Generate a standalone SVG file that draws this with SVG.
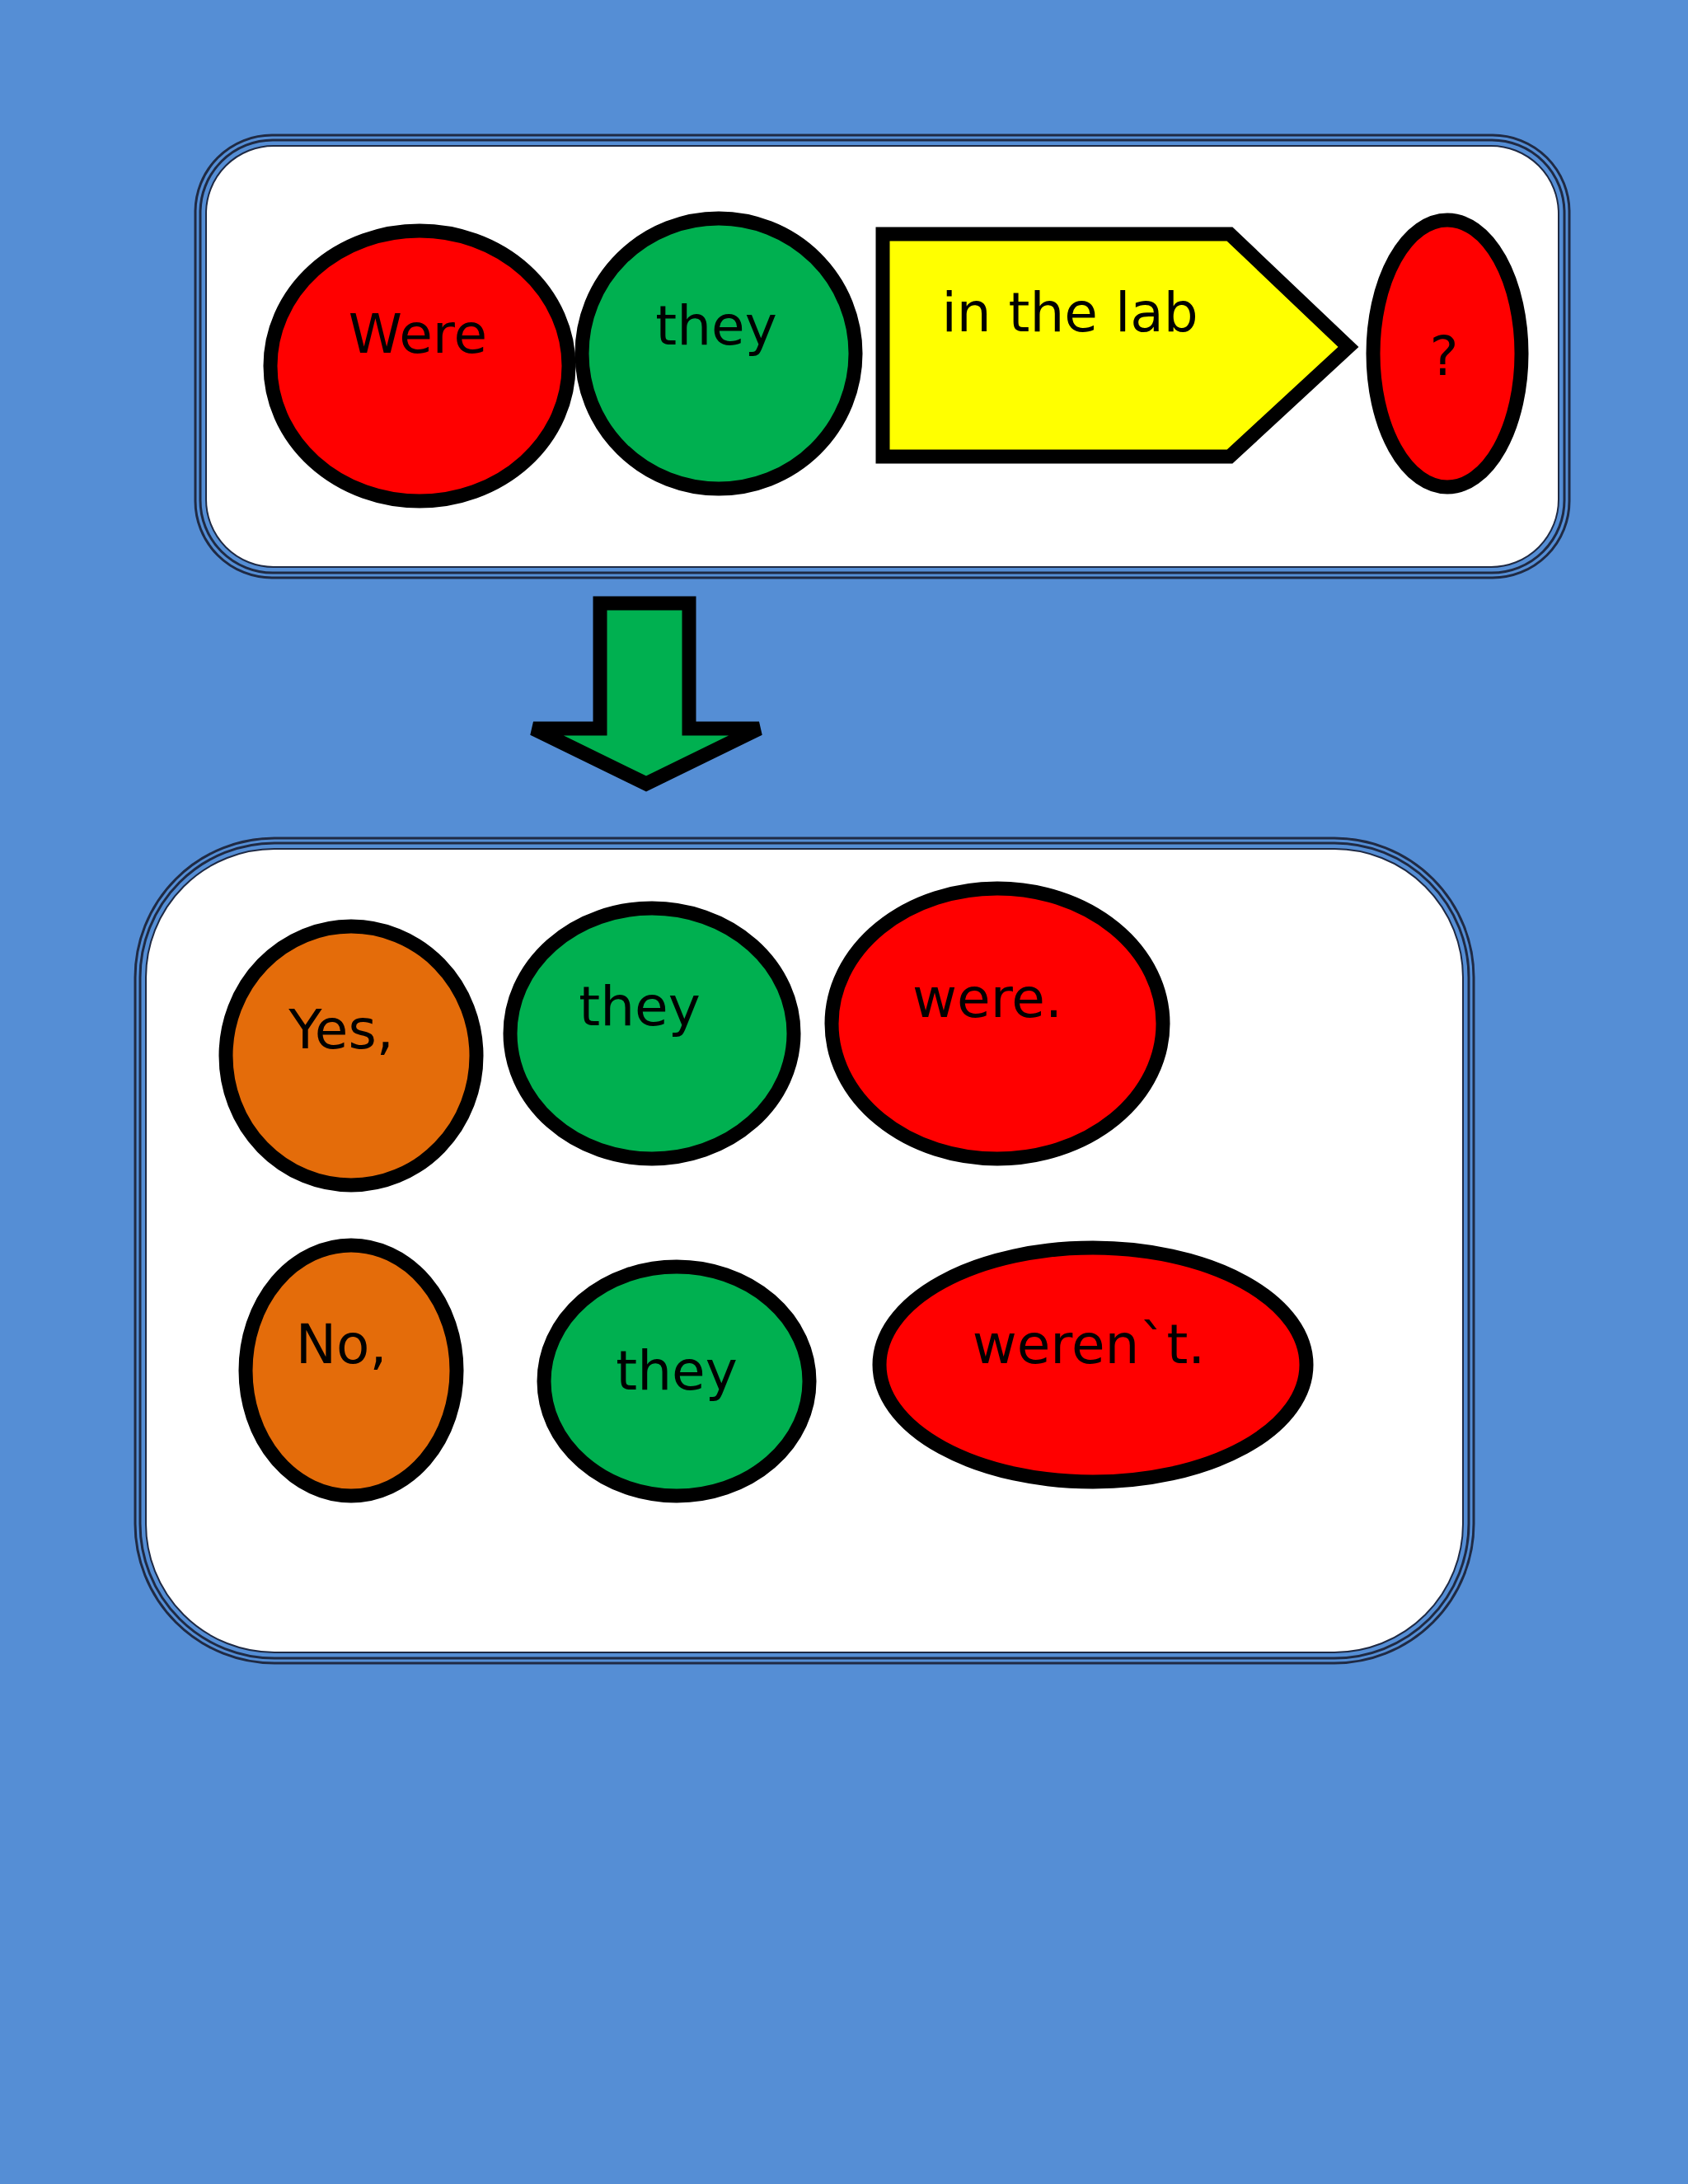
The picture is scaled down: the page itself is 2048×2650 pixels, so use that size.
<svg xmlns="http://www.w3.org/2000/svg" width="2048" height="2650" viewBox="0 0 2048 2650">
<style>
.s{stroke:#000;stroke-width:17}
.r{fill:#FF0000}.g{fill:#00B050}.o{fill:#E46C0A}.y{fill:#FFFF00}
.t{font-family:"DejaVu Sans",sans-serif;font-size:66px;fill:#000;text-anchor:middle}
.b1{fill:none;stroke:#1F2A44;stroke-width:3}
.b2{fill:#fff;stroke:#1F2A44;stroke-width:2}
</style>
<rect width="2048" height="2650" fill="#558ED5"/>
<g id="box1">
<rect class="b1" x="237" y="164" width="1667" height="537" rx="93"/>
<rect class="b1" x="243" y="170" width="1655" height="525" rx="88"/>
<rect class="b2" x="250" y="177" width="1641" height="511" rx="82"/>
</g>
<g id="were"><ellipse class="s r" cx="509" cy="444" rx="181" ry="164"/><text class="t" x="507" y="428">Were</text></g>
<g id="they1"><ellipse class="s g" cx="872" cy="429" rx="166" ry="164"/><text class="t" x="869" y="418">they</text></g>
<g id="inthelab"><polygon class="s y" points="1071,284 1492,284 1636,421 1492,554 1071,554"/><text class="t" x="1298" y="402">in the lab</text></g>
<g id="q"><ellipse class="s r" cx="1756" cy="429" rx="90" ry="162"/><text class="t" x="1752" y="455">?</text></g>
<g id="connectors"><polygon class="s g" points="728,732 836,732 836,884 921,884 784,951 647,884 728,884"/></g>
<g id="box2">
<rect class="b1" x="164" y="1017" width="1624" height="1001" rx="169"/>
<rect class="b1" x="170" y="1023" width="1612" height="989" rx="163"/>
<rect class="b2" x="177" y="1030" width="1598" height="975" rx="156"/>
</g>
<g id="yes"><ellipse class="s o" cx="426" cy="1281" rx="152" ry="157"/><text class="t" x="414" y="1272">Yes,</text></g>
<g id="they2"><ellipse class="s g" cx="791" cy="1254" rx="172" ry="152"/><text class="t" x="776" y="1244">they</text></g>
<g id="were2"><ellipse class="s r" cx="1210" cy="1242" rx="201" ry="164"/><text class="t" x="1198" y="1234">were.</text></g>
<g id="no"><ellipse class="s o" cx="426" cy="1663" rx="128" ry="152"/><text class="t" x="414" y="1654">No,</text></g>
<g id="they3"><ellipse class="s g" cx="821" cy="1676" rx="161" ry="139"/><text class="t" x="821" y="1686">they</text></g>
<g id="werent"><ellipse class="s r" cx="1326" cy="1656" rx="259" ry="142"/><text class="t" x="1321" y="1654">weren`t.</text></g>
</svg>
